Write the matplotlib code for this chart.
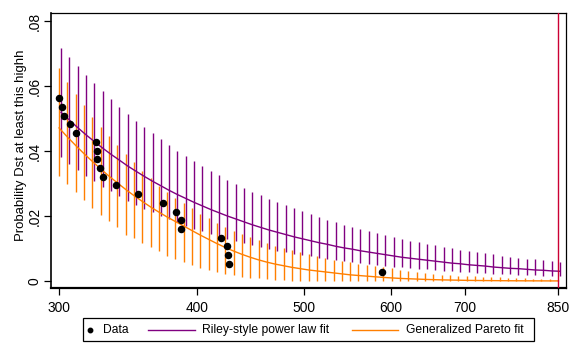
import matplotlib
matplotlib.use("Agg")
import matplotlib.pyplot as plt
from matplotlib import transforms
from matplotlib.lines import Line2D
from matplotlib.patches import Rectangle

plt.rcParams['font.family'] = ['Liberation Sans', 'DejaVu Sans']

# ---- data ----
x_grid = [300.0, 305.3, 310.6, 316.0, 321.6, 327.2, 332.9, 338.8, 344.7, 350.7,
          356.9, 363.1, 369.5, 375.9, 382.5, 389.2, 396.0, 403.0, 410.0, 417.2,
          424.5, 432.0, 439.5, 447.2, 455.0, 463.0, 471.1, 479.4, 487.8, 496.3,
          505.0, 513.8, 522.8, 532.0, 541.3, 550.8, 560.4, 570.2, 580.2, 590.4,
          600.7, 611.2, 621.9, 632.8, 643.9, 655.2, 666.7, 678.3, 690.2, 702.3,
          714.6, 727.1, 739.8, 752.8, 766.0, 779.4, 793.0, 806.9, 821.0, 835.4,
          850.0]

power_fit = [0.0519, 0.0495, 0.0472, 0.0450, 0.0429, 0.0409, 0.0390, 0.0372, 0.0354, 0.0338,
             0.0322, 0.0307, 0.0293, 0.0279, 0.0266, 0.0254, 0.0242, 0.0231, 0.0220, 0.0210,
             0.0200, 0.0191, 0.0182, 0.0173, 0.0165, 0.0157, 0.0150, 0.0143, 0.0136, 0.0130,
             0.0124, 0.0118, 0.0113, 0.0107, 0.0102, 0.0098, 0.0093, 0.0089, 0.0085, 0.0081,
             0.0077, 0.0073, 0.0070, 0.0067, 0.0064, 0.0061, 0.0058, 0.0055, 0.0053, 0.0050,
             0.0048, 0.0046, 0.0043, 0.0041, 0.0039, 0.0038, 0.0036, 0.0034, 0.0033, 0.0031,
             0.0030]
power_hi = [0.0718, 0.0690, 0.0663, 0.0634, 0.0609, 0.0585, 0.0560, 0.0535, 0.0514, 0.0492,
            0.0474, 0.0455, 0.0437, 0.0418, 0.0400, 0.0385, 0.0369, 0.0354, 0.0338, 0.0326,
            0.0311, 0.0298, 0.0286, 0.0274, 0.0265, 0.0252, 0.0243, 0.0234, 0.0225, 0.0215,
            0.0206, 0.0197, 0.0188, 0.0182, 0.0172, 0.0166, 0.0160, 0.0154, 0.0148, 0.0142,
            0.0135, 0.0129, 0.0124, 0.0119, 0.0114, 0.0110, 0.0106, 0.0101, 0.0096, 0.0092,
            0.0089, 0.0086, 0.0082, 0.0078, 0.0075, 0.0072, 0.0069, 0.0067, 0.0064, 0.0062,
            0.0059]
power_lo = [0.0382, 0.0361, 0.0343, 0.0323, 0.0308, 0.0290, 0.0278, 0.0263, 0.0247, 0.0235,
            0.0223, 0.0212, 0.0201, 0.0191, 0.0181, 0.0170, 0.0161, 0.0154, 0.0146, 0.0136,
            0.0129, 0.0123, 0.0117, 0.0111, 0.0105, 0.0098, 0.0092, 0.0089, 0.0083, 0.0080,
            0.0077, 0.0071, 0.0068, 0.0065, 0.0062, 0.0058, 0.0055, 0.0052, 0.0049, 0.0046,
            0.0043, 0.0042, 0.0040, 0.0038, 0.0036, 0.0034, 0.0032, 0.0031, 0.0029, 0.0028,
            0.0026, 0.0025, 0.0023, 0.0022, 0.0021, 0.0019, 0.0018, 0.0017, 0.0016, 0.0016,
            0.0015]

gpd_fit = [0.0471, 0.0443, 0.0417, 0.0392, 0.0368, 0.0345, 0.0323, 0.0302, 0.0282, 0.0263,
           0.0245, 0.0228, 0.0212, 0.0197, 0.0183, 0.0169, 0.0155, 0.0141, 0.0128, 0.0115,
           0.0103, 0.0092, 0.0082, 0.0073, 0.0065, 0.0058, 0.0052, 0.0047, 0.0042, 0.0038,
           0.0034, 0.0031, 0.0028, 0.0025, 0.0022, 0.0019, 0.0017, 0.0015, 0.0013, 0.0011,
           0.00095, 0.0008, 0.0007, 0.0006, 0.0005, 0.00042, 0.00035, 0.0003, 0.00025, 0.0002,
           0.00017, 0.00014, 0.00012, 0.0001, 0.00008, 0.00007, 0.00006, 0.00005, 0.00004, 0.00003,
           0.00003]
gpd_hi = [0.0655, 0.0612, 0.0575, 0.0542, 0.0505, 0.0474, 0.0446, 0.0418, 0.0391, 0.0366,
          0.0338, 0.0317, 0.0292, 0.0274, 0.0255, 0.0240, 0.0225, 0.0206, 0.0194, 0.0178,
          0.0166, 0.0154, 0.0145, 0.0135, 0.0126, 0.0117, 0.0108, 0.0102, 0.0095, 0.0089,
          0.0083, 0.0077, 0.0071, 0.0065, 0.0062, 0.0058, 0.0052, 0.0049, 0.0046, 0.0043,
          0.0040, 0.0034, 0.0030, 0.0027, 0.0024, 0.0022, 0.0019, 0.0018, 0.0016, 0.0015,
          0.0014, 0.0013, 0.0012, 0.0011, 0.0010, 0.0009, 0.0008, 0.0007, 0.0006, 0.0005,
          0.0004]
gpd_lo = [0.0323, 0.0299, 0.0275, 0.0250, 0.0226, 0.0204, 0.0186, 0.0167, 0.0142, 0.0133,
          0.0118, 0.0106, 0.0093, 0.0078, 0.0069, 0.0059, 0.0049, 0.0041, 0.0035, 0.0028,
          0.0022, 0.0017, 0.0013, 0.0010, 0.0008, 0.0006, 0.0004, 0.0002, 0.0001, 0.0,
          0.0, 0.0, 0.0, 0.0, 0.0, 0.0, 0.0, 0.0, 0.0, 0.0,
          0.0, 0.0, 0.0, 0.0, 0.0, 0.0, 0.0, 0.0, 0.0, 0.0,
          0.0, 0.0, 0.0, 0.0, 0.0, 0.0, 0.0, 0.0, 0.0, 0.0,
          0.0]

data_dst = [300, 302, 303, 307, 311, 324, 325, 325, 327, 329, 338,
            354, 373, 383, 387, 387, 421, 426, 427, 428, 589]
data_prob = [0.0564, 0.0536, 0.0509, 0.0484, 0.0456, 0.0429, 0.0401, 0.0375,
             0.0349, 0.0321, 0.0295, 0.0268, 0.0240, 0.0212, 0.0188, 0.0160,
             0.0133, 0.0108, 0.0080, 0.0052, 0.0029]

x_ticks = [300, 400, 500, 600, 700, 850]
x_ticklabels = ["300", "400", "500", "600", "700", "850"]
y_ticks = [0, 0.02, 0.04, 0.06, 0.08]
y_ticklabels = ["0", ".02", ".04", ".06", ".08"]
y_title = "Probability Dst at least this highh"
legend_labels = ["Data", "Riley-style power law fit", "Generalized Pareto fit"]

PURPLE = "#800080"
ORANGE = "#ff7f00"
RED = "#cc0033"

W, H = 581, 358
fig = plt.figure(figsize=(W / 100, H / 100), dpi=100)
fig.patch.set_facecolor("white")
renderer = fig.canvas.get_renderer()


def fit_size(text, target_px):
    """Font size (pt) that makes `text` about target_px wide."""
    t = fig.text(0, 0, text, fontsize=10)
    w = t.get_window_extent(renderer=renderer).width
    t.remove()
    return 10 * target_px / w


tick_fs = fit_size("300", 23.0)
title_fs = fit_size(y_title, 191.0)
legend_fs = fit_size(legend_labels[1], 127.0)

# axes box in pixels: left 51, right 566, top 13, bottom 288
ax = fig.add_axes([51 / W, 1 - 288 / H, (566 - 51) / W, (288 - 13) / H])
ax.set_xscale("log")
ax.set_xlim(295.0, 864.3)
ax.set_ylim(-0.00215, 0.08246)

purple_tr = transforms.offset_copy(ax.transData, fig=fig, x=2, y=0, units="dots")

ax.vlines(x_grid, gpd_lo, gpd_hi, colors=ORANGE, linewidth=1.0, zorder=2)
ax.vlines(x_grid, power_lo, power_hi, colors=PURPLE, linewidth=1.0, zorder=2,
          transform=purple_tr)
ax.plot(x_grid, power_fit, color=PURPLE, linewidth=1.0, zorder=3, transform=purple_tr)
ax.plot(x_grid, gpd_fit, color=ORANGE, linewidth=1.0, zorder=3)
ax.plot(data_dst, data_prob, linestyle="none", marker="o", markersize=4.4,
        color="black", zorder=4)
ax.axvline(850, color=RED, linewidth=1.0, zorder=5)

ax.set_xticks(x_ticks)
ax.set_xticklabels(x_ticklabels)
ax.xaxis.set_minor_locator(matplotlib.ticker.NullLocator())
ax.set_yticks(y_ticks)
ax.set_yticklabels(y_ticklabels, rotation=90, va="center")
ax.tick_params(axis="both", direction="out", length=5, width=0.9, labelsize=tick_fs,
               colors="black")
ax.tick_params(axis="x", pad=4)
ax.tick_params(axis="y", pad=1.5)

for s in ax.spines.values():
    s.set_color("black")
    s.set_linewidth(0.9)
ax.spines["bottom"].set_linewidth(1.6)
ax.spines["left"].set_linewidth(1.2)

fig.text(21 / W, 1 - 145 / H, y_title, rotation=90, ha="center", va="center",
         fontsize=title_fs)

# ---- legend (manual, in figure pixels) ----
def fx(px):
    return px / W


def fy(py):
    return 1 - py / H


fig.add_artist(Rectangle((fx(83.3), fy(340.7)), fx(534.3) - fx(83.3), fy(318.3) - fy(340.7),
                         transform=fig.transFigure, facecolor="white", edgecolor="black",
                         linewidth=0.9))
ly = 330
fig.add_artist(Line2D([fx(90)], [fy(ly)], marker="o", markersize=3.2, color="black",
                      linestyle="none", transform=fig.transFigure))
fig.text(fx(103.3), fy(ly), legend_labels[0], ha="left", va="center", fontsize=legend_fs)
fig.add_artist(Line2D([fx(148.3), fx(195)], [fy(ly), fy(ly)], color=PURPLE, linewidth=1.0,
                      transform=fig.transFigure))
fig.text(fx(202.3), fy(ly), legend_labels[1], ha="left", va="center", fontsize=legend_fs)
fig.add_artist(Line2D([fx(352.3), fx(397.7)], [fy(ly), fy(ly)], color=ORANGE, linewidth=1.0,
                      transform=fig.transFigure))
fig.text(fx(406), fy(ly), legend_labels[2], ha="left", va="center", fontsize=legend_fs)

fig.savefig("out.png", dpi=100, facecolor="white")
